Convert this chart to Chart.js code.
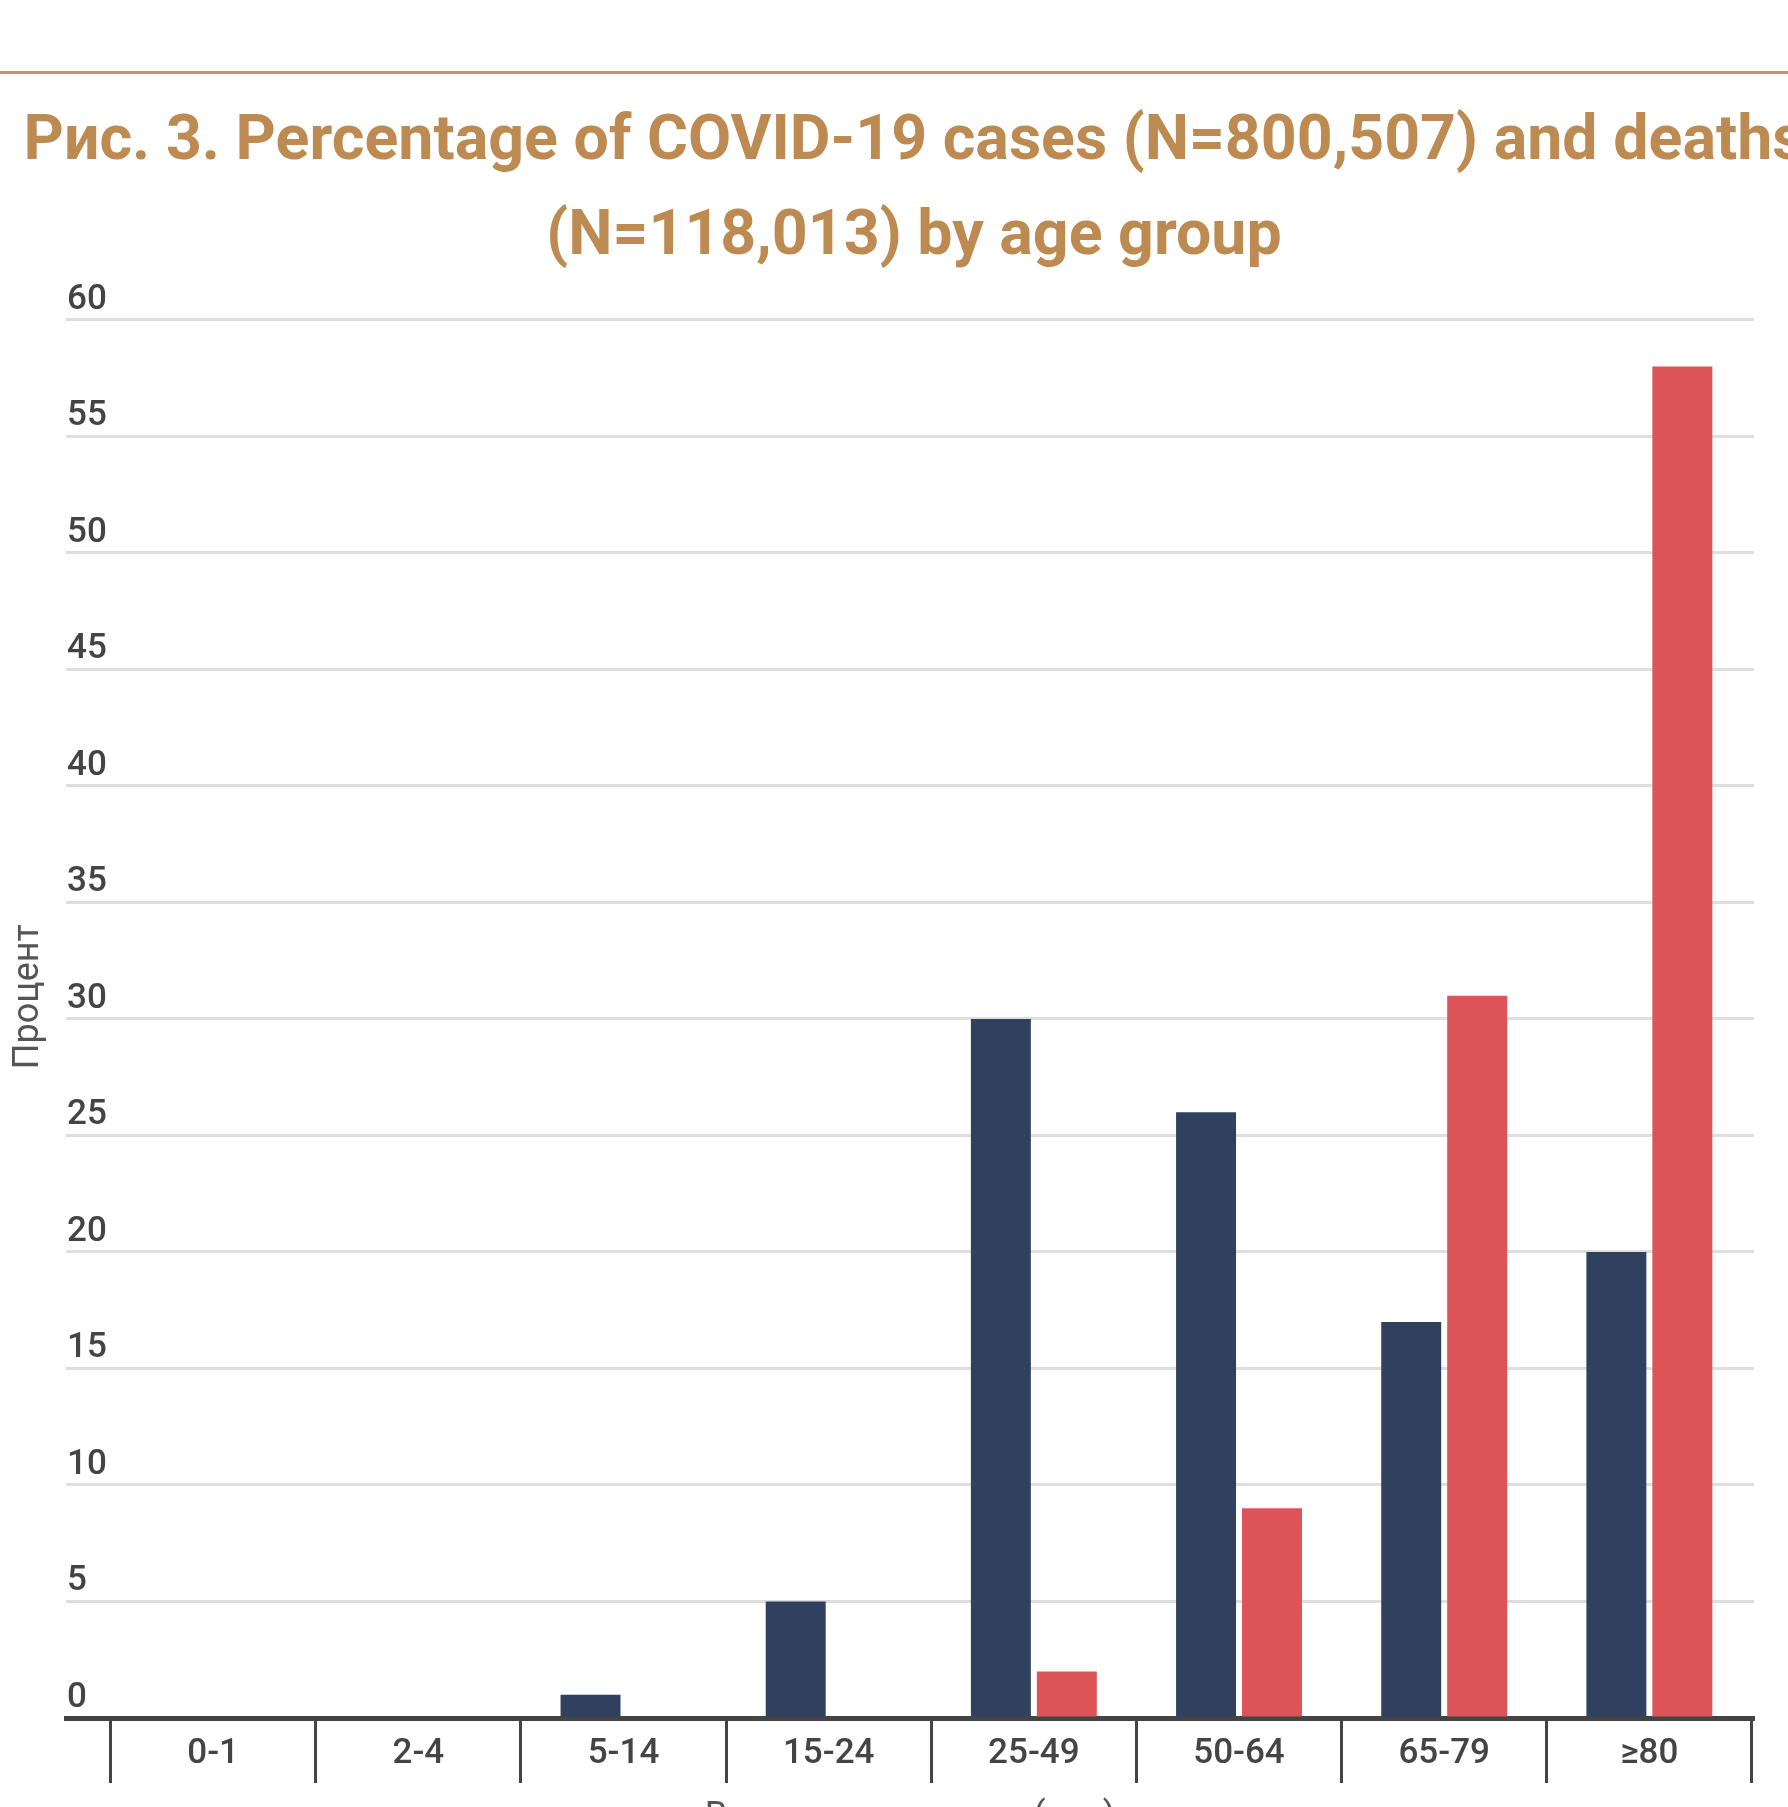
<!DOCTYPE html>
<html>
<head>
<meta charset="utf-8">
<script src="https://cdn.jsdelivr.net/npm/chart.js@4"></script>
<style>
html, body { margin: 0; padding: 0; background: #ffffff; overflow: hidden; }
#wrap { position: relative; width: 1788px; height: 1807px; overflow: hidden; background: #ffffff; }
#rule { position: absolute; left: 0; top: 71px; width: 1788px; height: 3px; background: #c19763; }
#c { position: absolute; left: 0; top: 0; }
</style>
</head>
<body>
<div id="wrap">
  <canvas id="c" width="1828" height="1850"></canvas>
  <div id="rule"></div>
</div>
<script>
// ---- data ----
const categories = ['0-1', '2-4', '5-14', '15-24', '25-49', '50-64', '65-79', '≥80'];
const casesPct   = [0, 0, 1, 5, 30, 26, 17, 20];
const deathsPct  = [0, 0, 0, 0, 2, 9, 31, 58];
const seriesNames = ['Случаи', 'Смерти'];
const titleLines = ['Рис. 3. Percentage of COVID-19 cases (N=800,507) and deaths', '(N=118,013) by age group'];
const yAxisTitle = 'Процент';
const xAxisTitle = 'Возрастная группа (лет)';
const yMin = 0, yMax = 60, yStep = 5;

// ---- style ----
const NAVY = '#30415f';
const RED = '#dc5457';
const TITLE_COLOR = '#bd8a51';
const TEXT_DARK = '#444444';
const TEXT_MID = '#555555';

Chart.defaults.font.family = 'Roboto';

const toPoints = arr => arr.map((v, i) => ({ x: i, y: v }));

new Chart(document.getElementById('c'), {
  type: 'bar',
  data: {
    datasets: [
      { label: seriesNames[0], data: toPoints(casesPct), backgroundColor: NAVY, borderWidth: 0,
        categoryPercentage: 0.643, barPercentage: 0.909, xAxisID: 'x', yAxisID: 'y' },
      { label: seriesNames[1], data: toPoints(deathsPct), backgroundColor: RED, borderWidth: 0,
        categoryPercentage: 0.643, barPercentage: 0.909, xAxisID: 'x', yAxisID: 'y' }
    ]
  },
  options: {
    responsive: false,
    animation: false,
    devicePixelRatio: 1,
    layout: { padding: { left: 0, right: 0, top: 0, bottom: 10.4 } },
    plugins: {
      legend: { display: false },
      tooltip: { enabled: false },
      title: {
        display: true,
        text: titleLines,
        color: TITLE_COLOR,
        align: 'center',
        font: { family: 'Roboto', size: 62.7, weight: 'bold', lineHeight: 1.515 },
        padding: { top: 95.5, bottom: 34.5 }
      }
    },
    scales: {
      x: {
        type: 'linear',
        position: 'bottom',
        min: -0.7173,
        max: 7.51,
        bounds: 'data',
        offset: false,
        afterBuildTicks: s => { s.ticks = categories.map((_, i) => ({ value: i })); },
        ticks: {
          callback: (v, i) => categories[i],
          autoSkip: false,
          maxRotation: 0,
          font: { size: 35, weight: '500' },
          color: TEXT_DARK,
          padding: -49.5
        },
        grid: {
          display: true,
          offset: true,
          drawOnChartArea: false,
          drawTicks: true,
          tickLength: 65,
          tickColor: TEXT_DARK,
          tickWidth: 3
        },
        border: { display: true, color: TEXT_DARK, width: 5 },
        title: {
          display: true,
          text: xAxisTitle,
          color: TEXT_MID,
          font: { size: 36, weight: 'normal' },
          padding: { top: 70.4, bottom: 0 }
        }
      },
      y: {
        type: 'linear',
        position: 'left',
        min: yMin,
        max: yMax,
        ticks: {
          stepSize: yStep,
          mirror: true,
          padding: 1,
          labelOffset: -20,
          font: { size: 35, weight: '500' },
          color: TEXT_DARK
        },
        grid: { color: '#dedede', lineWidth: 3, drawTicks: false },
        border: { display: false },
        title: {
          display: true,
          text: '     ' + yAxisTitle,
          color: TEXT_MID,
          font: { size: 36, weight: 'normal' },
          padding: { top: 7.4, bottom: 13.4 }
        }
      },
      yR: {
        type: 'linear',
        position: 'right',
        min: 0,
        max: 1,
        display: true,
        grid: { display: false, drawTicks: false, drawOnChartArea: false },
        ticks: { display: false },
        border: { display: false },
        afterFit: s => { s.width = 74; }
      }
    }
  }
});
</script>
</body>
</html>
